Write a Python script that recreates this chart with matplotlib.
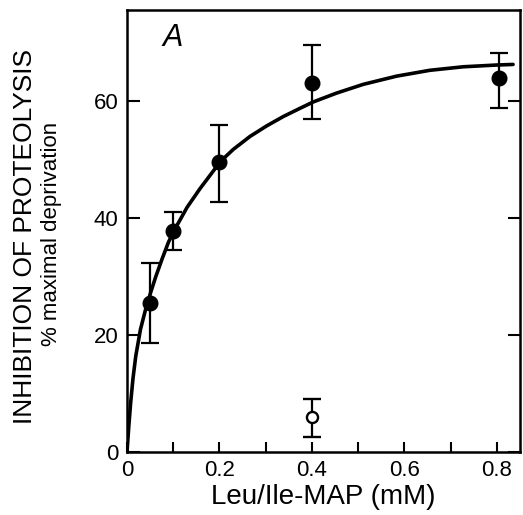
import numpy as np
import matplotlib
matplotlib.use('Agg')
import matplotlib.pyplot as plt
from matplotlib.ticker import MultipleLocator

plt.rcParams['font.family'] = ['Liberation Sans', 'DejaVu Sans']

# Данные: заполненные точки (Leu/Ile-MAP)
x_filled = [0.05, 0.1, 0.2, 0.4, 0.805]
y_filled = [25.5, 37.8, 49.5, 63.0, 63.9]
err_lo = [6.9, 3.3, 6.8, 6.1, 5.1]
err_hi = [6.8, 3.2, 6.4, 6.6, 4.2]

# Открытая точка
x_open = [0.4]
y_open = [5.9]
open_lo = [3.3]
open_hi = [3.2]

# Аппроксимирующая кривая
curve_x = [0, 0.004, 0.008, 0.013, 0.019, 0.029, 0.040, 0.051, 0.062, 0.076,
           0.090, 0.108, 0.130, 0.158, 0.203, 0.230, 0.266, 0.302, 0.338,
           0.374, 0.403, 0.453, 0.511, 0.583, 0.655, 0.727, 0.799, 0.835]
curve_y = [0, 4.5, 8.5, 12.6, 16.4, 20.9, 24.3, 27.2, 29.9, 33.0,
           35.9, 38.7, 41.8, 45.0, 49.7, 51.7, 53.9, 55.7, 57.3,
           58.7, 59.8, 61.3, 62.8, 64.2, 65.2, 65.8, 66.1, 66.2]

xticks = [0, 0.2, 0.4, 0.6, 0.8]
xtick_labels = ['0', '0.2', '0.4', '0.6', '0.8']
yticks = [0, 20, 40, 60]

fig = plt.figure(figsize=(5.23, 5.15), dpi=100)
ax = fig.add_axes([127 / 523, 63 / 515, 393 / 523, 442 / 515])

ax.plot(curve_x, curve_y, color='black', lw=2.6, solid_capstyle='round',
        solid_joinstyle='round')
ax.errorbar(x_filled, y_filled, yerr=[err_lo, err_hi], fmt='o', color='black',
            ms=10.5, elinewidth=1.6, capsize=6.5, capthick=1.6)
ax.errorbar(x_open, y_open, yerr=[open_lo, open_hi], fmt='o', color='black',
            mfc='white', mec='black', mew=1.7, ms=8,
            elinewidth=1.6, capsize=6.5, capthick=1.6)

ax.set_xlim(0, 0.85)
ax.set_ylim(0, 75.5)

ax.set_xticks(xticks)
ax.set_xticklabels(xtick_labels)
ax.xaxis.set_minor_locator(MultipleLocator(0.1))
ax.set_yticks(yticks)

ax.tick_params(axis='x', which='both', direction='in', length=7, width=1.5,
               top=False, labelsize=16, pad=6)
ax.tick_params(axis='y', which='both', direction='in', length=9, width=1.5,
               right=True, labelsize=16, pad=6)

for s in ax.spines.values():
    s.set_linewidth(1.8)

ax.set_xlabel('Leu/Ile-MAP (mM)', fontsize=20, labelpad=2)

fig.text(25 / 523, 1 - 237 / 515, 'INHIBITION OF PROTEOLYSIS', rotation=90,
         fontsize=19, ha='center', va='center')
fig.text(52 / 523, 1 - 234 / 515, '% maximal deprivation', rotation=90,
         fontsize=16, ha='center', va='center')

ax.text(0.115, 0.937, 'A', transform=ax.transAxes, fontsize=22,
        style='italic', ha='center', va='center')

plt.savefig('out.png', dpi=100)
